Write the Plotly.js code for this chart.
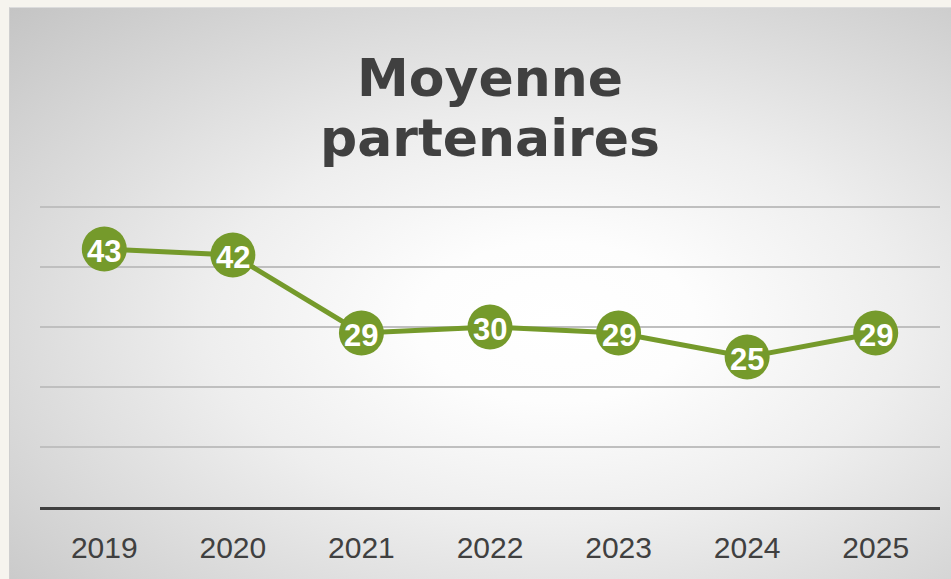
<!DOCTYPE html>
<html>
<head>
<meta charset="utf-8">
<script src="https://cdn.plot.ly/plotly-3.0.1.min.js"></script>
<style>
  html, body { margin: 0; padding: 0; background: #F6F4EE; }
  #wrap { position: relative; width: 951px; height: 579px; overflow: hidden; }
  #bg { position: absolute; left: 9px; top: 7px; right: 0; bottom: 0;
        background: radial-gradient(ellipse farthest-corner at 58% 55%, #ffffff 0%, #fdfdfd 18%, #eeeeee 45%, #c4c4c4 100%);
        border-left: 1px solid #cfcfcf; border-top: 1px solid #dcdcdc; }
  #chart { position: absolute; left: 0; top: 0; width: 951px; height: 579px; }
</style>
</head>
<body>
<div id="wrap">
  <div id="bg"></div>
  <div id="chart"></div>
</div>
<script>
const years = ['2019', '2020', '2021', '2022', '2023', '2024', '2025'];
const moyenne = [43, 42, 29, 30, 29, 25, 29];
const titleLine1 = 'Moyenne';
const titleLine2 = 'partenaires';

const green = '#759A2B';
const labelFont = { family: 'Liberation Sans, Arial, sans-serif', size: 31, color: '#ffffff' };

const trace = {
  type: 'scatter',
  x: years,
  y: moyenne,
  mode: 'lines+markers',
  line: { color: green, width: 5 },
  marker: { color: green, size: 45, line: { width: 0 } },
  hoverinfo: 'skip',
  cliponaxis: false
};

// value labels: category axis positions are the category indices
const valueLabels = years.map((yr, i) => ({
  x: i,
  y: moyenne[i],
  xref: 'x', yref: 'y',
  text: '<b>' + moyenne[i] + '</b>',
  font: labelFont,
  showarrow: false,
  xanchor: 'center', yanchor: 'middle',
  yshift: -2
}));

const layout = {
  width: 951,
  height: 579,
  margin: { l: 40, r: 11, t: 201, b: 72, pad: 0 },
  paper_bgcolor: 'rgba(0,0,0,0)',
  plot_bgcolor: 'rgba(0,0,0,0)',
  showlegend: false,
  title: {
    text: '<b>' + titleLine1 + '</b>',
    font: { family: 'DejaVu Sans, sans-serif', size: 52, color: '#404040' },
    xref: 'paper', x: 0.5, xanchor: 'center',
    yref: 'container', y: 1 - 78 / 579, yanchor: 'middle'
  },
  annotations: [{
    text: '<b>' + titleLine2 + '</b>',
    font: { family: 'DejaVu Sans, sans-serif', size: 52, color: '#404040' },
    xref: 'paper', x: 0.5, xanchor: 'center',
    yref: 'paper', y: (507 - 138) / 306, yanchor: 'middle',
    showarrow: false
  }].concat(valueLabels),
  xaxis: {
    type: 'category',
    range: [-0.5, 6.5],
    showgrid: false,
    zeroline: false,
    showline: true,
    linecolor: '#404040',
    linewidth: 3,
    ticks: '',
    ticklabelstandoff: 12,
    tickfont: { family: 'Liberation Sans, Arial, sans-serif', size: 30, color: '#404040' },
    fixedrange: true
  },
  yaxis: {
    range: [0, 51],
    dtick: 10,
    tick0: 0,
    showgrid: true,
    gridcolor: '#bfbfbf',
    gridwidth: 1.5,
    zeroline: false,
    showline: false,
    showticklabels: false,
    ticks: '',
    fixedrange: true
  }
};

Plotly.newPlot('chart', [trace], layout, { staticPlot: true, displayModeBar: false });
</script>
</body>
</html>
